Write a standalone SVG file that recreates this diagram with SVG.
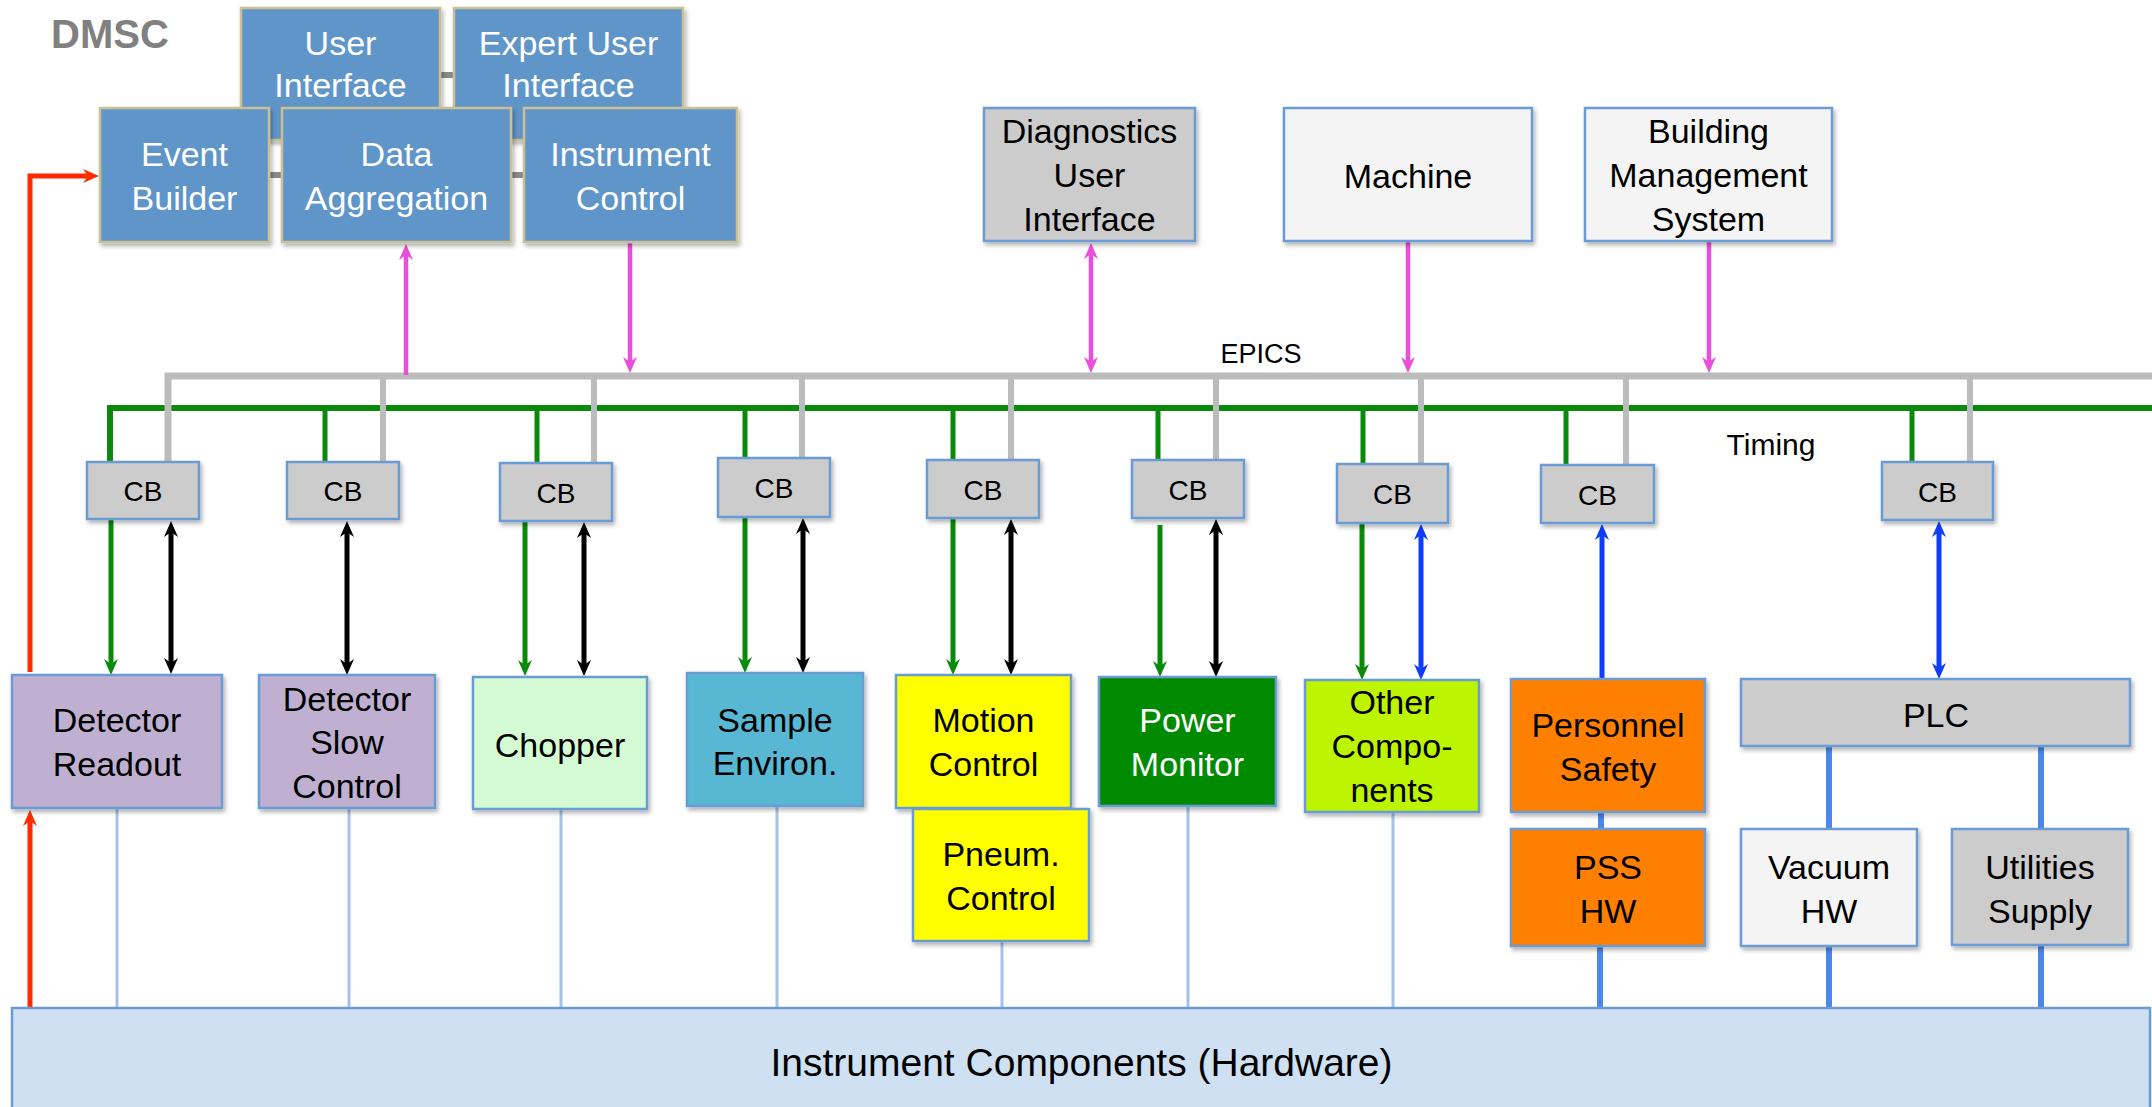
<svg xmlns="http://www.w3.org/2000/svg" width="2152" height="1107" viewBox="0 0 2152 1107">
<style>
text{font-family:"Liberation Sans",Arial,sans-serif;text-anchor:middle;fill:#000}
.t{font-size:34px}
.cb{font-size:28px}
.w{fill:#fff}
.nb{stroke:#6b9bd2;stroke-width:2.5}
.db{fill:#6095c9;stroke:#cbbf94;stroke-width:2.5}
.sh{filter:url(#sh)}
.pink{stroke:#ea4fd9;stroke-width:4.5;fill:none}
.blk{stroke:#000;stroke-width:5;fill:none}
.grn{stroke:#0a8a0a;stroke-width:5;fill:none}
.blu{stroke:#0f3cff;stroke-width:5;fill:none}
.red{stroke:#ff2a00;stroke-width:5;fill:none}
.gray{stroke:#bcbcbc;stroke-width:6;fill:none}
.lb{stroke:#a3c3e6;stroke-width:3;fill:none}
.tb{stroke:#4a88ee;stroke-width:6;fill:none}
.link{stroke:#8a8a8a;stroke-width:6;fill:none}
</style>
<defs>
<filter id="sh" x="-10%" y="-10%" width="130%" height="130%">
<feDropShadow dx="2" dy="3" stdDeviation="2" flood-color="#000" flood-opacity="0.3"/>
</filter>
<marker id="mp" viewBox="0 0 16 14" refX="8" refY="7" markerWidth="16" markerHeight="14" markerUnits="userSpaceOnUse" orient="auto-start-reverse"><path d="M0,0 L16,7 L0,14 L5,7 z" fill="#ea4fd9"/></marker>
<marker id="mk" viewBox="0 0 16 14" refX="8" refY="7" markerWidth="16" markerHeight="14" markerUnits="userSpaceOnUse" orient="auto-start-reverse"><path d="M0,0 L16,7 L0,14 L5,7 z" fill="#000"/></marker>
<marker id="mg" viewBox="0 0 16 14" refX="8" refY="7" markerWidth="16" markerHeight="14" markerUnits="userSpaceOnUse" orient="auto-start-reverse"><path d="M0,0 L16,7 L0,14 L5,7 z" fill="#0a8a0a"/></marker>
<marker id="mb" viewBox="0 0 16 14" refX="8" refY="7" markerWidth="16" markerHeight="14" markerUnits="userSpaceOnUse" orient="auto-start-reverse"><path d="M0,0 L16,7 L0,14 L5,7 z" fill="#0f3cff"/></marker>
<marker id="mr" viewBox="0 0 16 14" refX="8" refY="7" markerWidth="16" markerHeight="14" markerUnits="userSpaceOnUse" orient="auto-start-reverse"><path d="M0,0 L16,7 L0,14 L5,7 z" fill="#ff2a00"/></marker>
</defs>

<text x="110" y="48" style="font-size:40px;font-weight:bold;fill:#808080">DMSC</text>

<g id="connectors">
<!-- DMSC internal links -->
<path class="link" d="M440,75 H454 M269,175 H282 M511,175 H524"/>
<!-- buses -->
<path class="grn" style="stroke-width:6" d="M110,462 V408 H2152"/>
<path class="grn" d="M325,408 V462 M537,408 V463 M745,408 V458 M953,408 V460 M1158,408 V460 M1363,408 V464 M1566,408 V465 M1912,408 V462"/>
<path class="gray" style="stroke-width:7" d="M168,462 V376 H2152"/>
<path class="gray" d="M383,376 V462 M594,376 V463 M802,376 V458 M1011,376 V460 M1216,376 V460 M1421,376 V464 M1626,376 V465 M1970,376 V462"/>
<!-- pink EPICS links -->
<path class="pink" marker-end="url(#mp)" d="M406,375 V252"/>
<path class="pink" marker-end="url(#mp)" d="M630,242 V365"/>
<path class="pink" marker-start="url(#mp)" marker-end="url(#mp)" d="M1091,251 V365"/>
<path class="pink" marker-end="url(#mp)" d="M1408,241 V365"/>
<path class="pink" marker-end="url(#mp)" d="M1709,241 V365"/>
<!-- timing arrows -->
<path class="grn" marker-end="url(#mg)" d="M111,519 V667"/>
<path class="grn" marker-end="url(#mg)" d="M525,521 V668"/>
<path class="grn" marker-end="url(#mg)" d="M745,517 V665"/>
<path class="grn" marker-end="url(#mg)" d="M953,518 V667"/>
<path class="grn" marker-end="url(#mg)" d="M1160,525 V669"/>
<path class="grn" marker-end="url(#mg)" d="M1362,523 V672"/>
<!-- black control links -->
<path class="blk" marker-start="url(#mk)" marker-end="url(#mk)" d="M171,529 V666"/>
<path class="blk" marker-start="url(#mk)" marker-end="url(#mk)" d="M347,529 V667"/>
<path class="blk" marker-start="url(#mk)" marker-end="url(#mk)" d="M584,530 V668"/>
<path class="blk" marker-start="url(#mk)" marker-end="url(#mk)" d="M803,526 V665"/>
<path class="blk" marker-start="url(#mk)" marker-end="url(#mk)" d="M1011,527 V667"/>
<path class="blk" marker-start="url(#mk)" marker-end="url(#mk)" d="M1216,527 V669"/>
<!-- blue links -->
<path class="blu" marker-start="url(#mb)" marker-end="url(#mb)" d="M1421,532 V672"/>
<path class="blu" marker-start="url(#mb)" marker-end="url(#mb)" d="M1939,529 V671"/>
<path class="blu" marker-end="url(#mb)" d="M1602,679 V532"/>
<!-- red data links -->
<path class="red" marker-end="url(#mr)" d="M30,672 V176 H91"/>
<path class="red" marker-end="url(#mr)" d="M30,1008 V818"/>
<!-- hardware links -->
<path class="lb" d="M117,808 V1008 M349,808 V1008 M561,809 V1008 M777,806 V1008 M1002,941 V1008 M1188,806 V1008 M1393,812 V1008"/>
<path class="tb" d="M1601,812 V829 M1600,946 V1008 M1829,746 V829 M1829,946 V1008 M2041,746 V829 M2041,945 V1008"/>
</g>

<g id="user-interface"><rect class="db sh" x="241" y="8" width="199" height="132"/><text class="t w" x="340.5" y="55">User</text><text class="t w" x="340.5" y="97">Interface</text></g>
<g id="expert-user-interface"><rect class="db sh" x="454" y="8" width="229" height="132"/><text class="t w" x="568.5" y="55">Expert User</text><text class="t w" x="568.5" y="97">Interface</text></g>
<g id="event-builder"><rect class="db sh" x="100" y="108" width="169" height="134"/><text class="t w" x="184.5" y="166">Event</text><text class="t w" x="184.5" y="210">Builder</text></g>
<g id="data-aggregation"><rect class="db sh" x="282" y="108" width="229" height="134"/><text class="t w" x="396.5" y="166">Data</text><text class="t w" x="396.5" y="210">Aggregation</text></g>
<g id="instrument-control"><rect class="db sh" x="524" y="108" width="213" height="134"/><text class="t w" x="630.5" y="166">Instrument</text><text class="t w" x="630.5" y="210">Control</text></g>

<g id="diagnostics-ui"><rect class="nb sh" fill="#cccccc" x="984" y="108" width="211" height="133"/><text class="t" x="1089.5" y="143">Diagnostics</text><text class="t" x="1089.5" y="187">User</text><text class="t" x="1089.5" y="231">Interface</text></g>
<g id="machine"><rect class="nb sh" fill="#f4f4f4" x="1284" y="108" width="248" height="133"/><text class="t" x="1408" y="188">Machine</text></g>
<g id="bms"><rect class="nb sh" fill="#f4f4f4" x="1585" y="108" width="247" height="133"/><text class="t" x="1708.5" y="143">Building</text><text class="t" x="1708.5" y="187">Management</text><text class="t" x="1708.5" y="231">System</text></g>

<text x="1261" y="363" style="font-size:27px">EPICS</text>
<text x="1771" y="455" style="font-size:30px">Timing</text>

<g id="cb1"><rect class="nb sh" fill="#cccccc" x="87" y="462" width="112" height="57"/><text class="cb" x="143" y="501">CB</text></g>
<g id="cb2"><rect class="nb sh" fill="#cccccc" x="287" y="462" width="112" height="57"/><text class="cb" x="343" y="501">CB</text></g>
<g id="cb3"><rect class="nb sh" fill="#cccccc" x="500" y="463" width="112" height="58"/><text class="cb" x="556" y="503">CB</text></g>
<g id="cb4"><rect class="nb sh" fill="#cccccc" x="718" y="458" width="112" height="59"/><text class="cb" x="774" y="498">CB</text></g>
<g id="cb5"><rect class="nb sh" fill="#cccccc" x="927" y="460" width="112" height="58"/><text class="cb" x="983" y="500">CB</text></g>
<g id="cb6"><rect class="nb sh" fill="#cccccc" x="1132" y="460" width="112" height="58"/><text class="cb" x="1188" y="500">CB</text></g>
<g id="cb7"><rect class="nb sh" fill="#cccccc" x="1337" y="464" width="111" height="59"/><text class="cb" x="1392.5" y="504">CB</text></g>
<g id="cb8"><rect class="nb sh" fill="#cccccc" x="1541" y="465" width="113" height="58"/><text class="cb" x="1597.5" y="505">CB</text></g>
<g id="cb9"><rect class="nb sh" fill="#cccccc" x="1882" y="462" width="111" height="58"/><text class="cb" x="1937.5" y="502">CB</text></g>

<g id="detector-readout"><rect class="nb sh" fill="#bfb0d2" x="12" y="675" width="210" height="133"/><text class="t" x="117" y="732">Detector</text><text class="t" x="117" y="776">Readout</text></g>
<g id="detector-slow-control"><rect class="nb sh" fill="#bfb0d2" x="259" y="675" width="176" height="133"/><text class="t" x="347" y="711">Detector</text><text class="t" x="347" y="754">Slow</text><text class="t" x="347" y="798">Control</text></g>
<g id="chopper"><rect class="nb sh" fill="#d5fbd5" x="473" y="677" width="174" height="132"/><text class="t" x="560" y="757">Chopper</text></g>
<g id="sample-environ"><rect class="nb sh" fill="#58b8d3" x="687" y="673" width="176" height="133"/><text class="t" x="775" y="732">Sample</text><text class="t" x="775" y="775">Environ.</text></g>
<g id="motion-control"><rect class="nb sh" fill="#ffff00" x="896" y="675" width="175" height="133"/><text class="t" x="983.5" y="732">Motion</text><text class="t" x="983.5" y="776">Control</text></g>
<g id="pneum-control"><rect class="nb sh" fill="#ffff00" x="913" y="809" width="176" height="132"/><text class="t" x="1001" y="866">Pneum.</text><text class="t" x="1001" y="910">Control</text></g>
<g id="power-monitor"><rect class="nb sh" fill="#008a00" x="1099" y="677" width="177" height="129"/><text class="t w" x="1187.5" y="732">Power</text><text class="t w" x="1187.5" y="776">Monitor</text></g>
<g id="other-components"><rect class="nb sh" fill="#bdf400" x="1305" y="680" width="174" height="132"/><text class="t" x="1392" y="714">Other</text><text class="t" x="1392" y="758">Compo-</text><text class="t" x="1392" y="802">nents</text></g>
<g id="personnel-safety"><rect class="nb sh" fill="#ff7f00" x="1511" y="679" width="194" height="133"/><text class="t" x="1608" y="737">Personnel</text><text class="t" x="1608" y="781">Safety</text></g>
<g id="pss-hw"><rect class="nb sh" fill="#ff7f00" x="1511" y="829" width="194" height="117"/><text class="t" x="1608" y="879">PSS</text><text class="t" x="1608" y="923">HW</text></g>
<g id="plc"><rect class="nb sh" fill="#cccccc" x="1741" y="679" width="389" height="67"/><text class="t" x="1936" y="727">PLC</text></g>
<g id="vacuum-hw"><rect class="nb sh" fill="#f4f4f4" x="1741" y="829" width="176" height="117"/><text class="t" x="1829" y="879">Vacuum</text><text class="t" x="1829" y="923">HW</text></g>
<g id="utilities-supply"><rect class="nb sh" fill="#cccccc" x="1952" y="829" width="176" height="116"/><text class="t" x="2040" y="879">Utilities</text><text class="t" x="2040" y="923">Supply</text></g>

<g id="instrument-components"><rect class="nb" fill="#cfe0f2" x="12" y="1008" width="2138" height="110"/><text x="1081.5" y="1076" style="font-size:39px">Instrument Components (Hardware)</text></g>
</svg>
